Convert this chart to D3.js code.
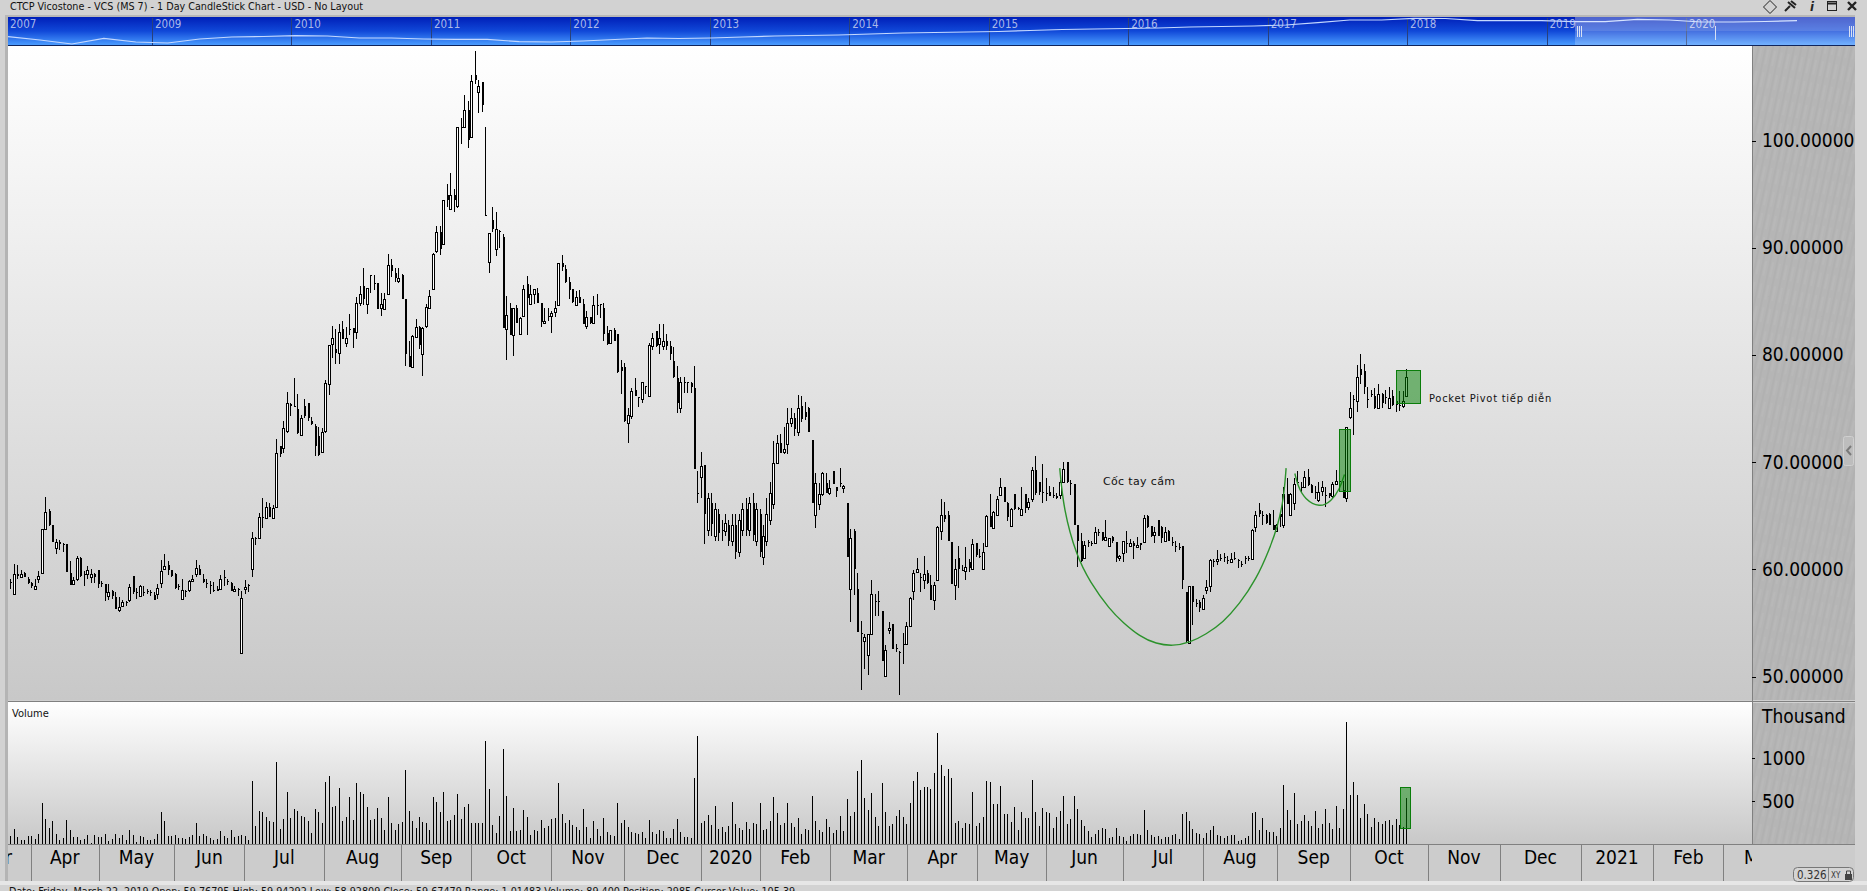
<!DOCTYPE html>
<html>
<head>
<meta charset="utf-8" />
<script src="https://cdn.jsdelivr.net/npm/d3@7"></script>
<style>
  html, body { margin: 0; padding: 0; background: #d2d2d2; overflow: hidden; }
  svg { display: block; }
  text { font-family: "DejaVu Sans Condensed", "DejaVu Sans", sans-serif; }
</style>
</head>
<body>
<script>
// values, one entry per trading day
const opens = [
  58.7,57.5,59.4,59.1,59.5,59.0,58.6,58.0,58.9,59.5,
  63.6,65.3,64.0,61.8,62.4,62.2,62.2,59.5,58.5,58.9,
  60.9,59.4,59.4,59.1,59.4,59.8,58.6,58.5,57.3,57.8,
  57.3,56.0,56.4,56.8,57.0,59.2,57.7,57.4,57.7,57.8,
  57.7,57.5,57.5,58.6,59.9,60.3,59.8,59.4,58.3,57.1,
  57.8,58.0,58.8,59.4,59.9,59.0,58.6,58.4,57.9,58.0,
  58.1,59.1,58.8,58.6,57.8,58.0,52.1,58.0,58.4,59.9,
  62.8,62.7,64.7,64.7,65.7,64.7,65.7,71.4,71.1,72.8,
  75.3,75.1,74.8,72.4,75.1,75.4,73.7,73.2,72.3,70.8,
  72.7,77.2,80.8,80.4,80.0,82.3,80.9,82.3,82.4,82.0,
  84.7,86.3,84.6,87.3,86.6,86.6,84.2,84.2,85.5,88.2,
  87.5,86.7,87.3,85.1,79.8,78.7,81.6,82.5,80.0,82.5,
  84.3,86.0,89.5,91.3,90.2,94.8,93.5,94.8,93.7,101.1,
  101.1,102.7,100.2,106.0,104.3,105.3,92.9,88.5,92.4,89.7,
  91.4,90.9,82.3,84.2,81.7,84.2,81.8,83.5,86.5,84.6,
  85.5,85.6,84.7,82.8,83.5,83.5,83.8,84.5,88.4,87.9,
  86.7,86.0,84.6,85.3,84.6,82.6,83.4,82.8,84.5,84.6,
  84.2,81.9,81.0,82.2,81.8,78.7,78.7,73.6,74.2,76.6,
  75.9,75.7,77.0,76.0,80.7,82.1,80.8,80.7,81.2,80.7,
  79.3,77.7,74.9,77.3,77.3,77.2,76.8,67,68.5,69.6,
  63.5,66,63,65,63.5,63.5,64,62.5,64,61.5,63.5,
  65.5,63.5,66,62.5,65,61,62.5,64.5,66,69.7,
  71.6,70.8,71.5,73.5,74.0,72.7,75.1,74.5,74.9,71.9,
  64.9,66.0,66.8,67.9,66.9,69.0,67.5,67.9,67.4,66.0,
  58.0,63.4,58.0,53.9,53.1,51.8,53.9,56.9,56.9,56.0,
  49.9,54.2,54.8,52.5,52.1,52.9,52.9,54.6,57.8,59.6,
  59.1,58.8,59.5,58.4,57.0,58.9,63.4,64.9,64.9,62.4,
  58.4,60.9,59.8,59.7,60.5,59.9,62.3,61.1,59.9,62.0,
  64.8,63.7,64.9,66.8,67.5,66.0,63.9,66.9,65.6,64.9,
  66.9,65.6,66.4,69.1,68.0,67.1,67.0,67.1,66.8,66.7,
  66.8,68.0,69.9,67.9,67.8,64.0,62.5,60.9,62.4,62.3,
  62.3,63.3,63.3,62.6,62.1,62.9,62.4,60.9,61.4,62.3,
  62.0,62.3,61.9,62.3,62.4,64.8,63.9,63.0,64.5,63.8,
  62.5,63.4,62.4,62.0,61.9,62.0,57.7,53.0,58.3,56.7,
  56.8,56.2,57.9,58.3,60.6,60.6,60.9,61.0,60.7,60.5,
  60.9,60.7,60.4,60.9,60.9,60.8,63.8,65.4,64.9,64.9,
  65.0,64.0,63.4,65.0,64.0,66.9,64.9,66.0,68.0,67.5,
  67.6,68.5,67.7,67.1,66.4,67.1,66.8,67.0,66.7,67.8,
  68.1,67.3,66.5,74.1,75.7,75.6,78.5,78.4,75.7,76.2,
  76.0,74.9,76.2,75.9,74.9,76.0,75.6,75.2,75.1,76.0,
];
const highs = [
  59.0,60.4,60.3,59.8,59.6,59.1,58.7,59.0,59.7,63.6,
  66.6,65.5,64.0,62.7,62.6,62.3,62.2,60.6,59.1,61.1,
  61.0,59.7,60.2,59.9,59.5,59.8,58.8,58.5,58.5,57.9,
  57.7,57.3,57.0,56.9,58.5,59.2,58.1,58.4,58.3,58.0,
  57.9,57.7,58.5,60.7,61.3,60.6,59.8,59.5,58.5,59.0,
  57.9,58.9,59.3,60.7,60.3,59.4,59.0,58.8,58.7,58.3,
  59.3,59.8,59.0,58.7,58.3,58.1,57.8,58.9,58.5,63.3,
  62.9,65.1,66.5,66.1,66.0,65.9,72.0,71.4,73.7,76.4,
  75.4,77.7,76.2,74.3,75.7,75.4,74.1,73.4,73.1,73.0,
  77.5,80.8,82.6,82.3,82.7,83.0,82.5,83.7,82.4,85.3,
  86.3,88.0,86.1,87.3,87.3,86.6,85.6,85.6,89.3,88.8,
  88.0,88.0,87.4,85.1,81.2,81.7,83.2,82.6,82.5,84.6,
  85.9,89.4,91.9,91.9,94.3,95.8,96.8,95.3,101.1,102.0,
  104.1,103.5,106.0,108.2,105.5,105.3,101.1,91.2,93.7,93.2,
  91.5,91.1,85.4,84.7,84.2,84.5,83.4,86.4,87.2,86.4,
  86.0,86.1,84.7,84.2,84.2,84.0,84.9,88.4,89.2,88.2,
  87.1,86.0,85.8,85.9,85.1,84.0,83.4,85.4,85.5,84.6,
  84.7,82.6,82.2,82.4,81.8,79.4,79.1,74.9,76.8,77.7,
  75.9,77.3,77.0,81.0,81.9,82.1,82.7,82.7,81.8,81.2,
  80.6,78.8,77.8,77.8,77.3,77.3,78.8,69.0,70.8,69.6,
  67,67,66,65.5,64.5,65,64.5,65,65,65,66,
  66.5,66.6,67,66,65.5,64,66.5,68,71.8,72.4,
  72.5,73.1,74.9,74.9,74.4,76.1,76.0,75.5,75.0,71.9,
  68.8,67.9,68.9,68.8,68.2,69.0,67.5,69.3,67.7,66.0,
  63.6,63.6,59.5,55.0,53.8,53.8,58.9,57.6,57.8,56.0,
  52.8,54.9,54.8,52.9,52.2,53.9,54.9,57.3,59.8,60.9,
  59.5,61.1,59.8,59.3,58.7,63.9,66.4,66.1,65.3,62.4,
  60.8,62.0,60.3,61.9,60.8,62.7,62.3,61.8,62.3,64.9,
  66.9,65.3,66.7,68.4,67.5,66.1,65.6,66.9,65.7,67.5,
  66.9,66.5,69.4,70.4,68.0,69.7,68.4,67.6,67.5,67.0,
  68.2,69.9,69.9,68.2,67.8,64.0,63.2,62.5,62.6,62.5,
  63.8,63.6,63.3,64.5,62.8,63.0,62.4,61.2,62.5,63.4,
  62.7,62.5,62.9,62.3,64.9,64.9,63.9,63.8,64.5,63.9,
  63.8,63.5,62.9,62.5,62.3,62.0,57.7,58.3,58.3,57.1,
  57.0,57.5,58.9,60.8,60.8,61.7,61.3,61.4,61.1,61.4,
  61.5,60.8,60.6,61.1,61.1,63.6,65.3,66.0,65.3,65.0,
  65.1,65.4,64.1,65.0,67.5,68.4,67.0,68.4,69.0,68.0,
  69.0,69.2,67.8,67.6,68.0,68.1,67.5,67.0,68.0,69.1,
  68.2,68.1,73.1,76.4,76.1,78.9,79.9,79.0,76.9,76.6,
  76.8,77.1,76.3,76.6,76.9,76.6,75.7,76.5,76.5,78.5,
];
const lows = [
  58.0,57.5,59.0,59.1,59.1,58.5,58.1,58.0,58.6,59.5,
  63.6,63.9,62.4,61.3,61.7,61.5,59.6,58.4,58.4,58.8,
  59.1,58.3,59.0,58.6,58.6,58.1,58.2,56.9,57.0,57.1,
  56.2,55.9,56.3,56.4,56.8,57.6,57.1,57.3,57.4,57.6,
  57.4,57.0,57.1,58.1,59.8,59.3,59.1,58.0,57.9,57.0,
  57.3,57.7,58.7,59.1,59.3,58.6,58.1,57.6,57.7,57.8,
  58.0,58.3,58.4,57.9,57.8,57.4,52.0,57.6,57.7,59.1,
  62.1,62.7,63.7,64.6,64.7,64.6,65.7,70.3,70.7,72.6,
  74.2,75.0,72.5,72.4,74.0,73.7,73.3,70.4,70.4,70.8,
  72.6,76.1,79.6,79.0,79.0,81.4,80.6,81.7,80.5,81.3,
  84.4,84.5,83.7,85.6,85.9,84.2,83.5,84.2,85.5,87.1,
  86.7,86.6,85.1,78.8,78.8,78.7,81.6,80.4,77.9,82.4,
  84.3,86.0,89.4,89.2,90.2,93.7,93.4,93.2,93.6,99.5,
  101.1,99.2,100.2,105.1,102.4,102.5,92.8,87.5,91.3,89.1,
  89.8,82.4,79.4,81.7,79.8,82.8,81.7,83.4,81.7,84.6,
  84.6,84.7,82.5,82.8,83.0,81.9,83.4,84.5,87.7,86.6,
  85.1,84.7,84.6,84.7,82.7,82.3,82.7,82.7,83.6,83.3,
  81.2,80.8,80.9,81.2,78.2,76.2,73.6,71.6,73.9,76.0,
  75.0,75.4,76.2,76.0,80.3,80.6,79.9,80.3,80.3,79.4,
  77.7,74.4,74.4,76.3,76.3,76.3,69.2,66,66.5,62.2,
  63,63,62.5,62.5,62.5,63,62,62,60.8,61,63,
  63,63,62.5,62,61,60.3,62,64,65.5,69.7,
  70.7,70.6,70.6,73.1,72.3,72.3,73.6,73.8,72.7,66.0,
  63.7,65.4,66.7,67.0,66.8,67.8,66.6,67.5,67.0,61.0,
  54.9,57.5,54.0,48.6,50.6,50.0,53.9,55.5,55.5,51.3,
  49.9,53.8,52.5,52.1,48.1,51.0,52.8,54.6,57.0,59.5,
  57.7,58.0,58.5,57.0,56.1,58.8,62.6,64.3,62.5,58.5,
  57.0,58.1,59.7,58.9,59.6,59.8,61.0,60.9,59.8,61.9,
  63.8,63.6,64.9,66.7,66.1,64.4,63.8,65.4,65.4,64.9,
  65.1,65.4,66.1,66.8,66.8,66.0,66.2,66.7,66.5,66.4,
  66.4,67.9,67.9,66.8,64.0,60.1,60.5,60.9,61.9,62.0,
  62.3,63.0,62.5,62.5,62.1,62.3,60.5,60.6,60.5,61.4,
  62.0,60.8,61.9,61.7,62.3,63.7,62.9,62.3,63.0,62.3,
  62.4,62.5,62.0,61.5,61.7,58.0,53.1,52.9,54.7,56.3,
  55.9,56.1,57.6,57.7,60.1,60.3,60.6,60.5,60.4,60.5,
  60.7,60.0,60.1,60.4,60.6,60.8,63.3,64.7,64.0,64.1,
  64.0,63.5,63.4,63.8,63.7,66.0,64.9,65.4,68.0,67.0,
  67.5,67.6,67.0,66.4,66.1,66.7,65.7,66.5,66.5,67.7,
  67.1,66.5,66.1,73.9,72.4,74.5,77.1,76.2,74.9,75.9,
  74.8,74.8,74.9,75.3,74.8,75.1,74.5,74.6,74.9,75.9,
];
const closes = [
  58.6,59.4,59.2,59.4,59.1,58.6,58.3,58.3,59.2,63.6,
  65.2,64.0,62.4,62.4,62.2,62.2,59.6,58.4,58.9,60.9,
  59.2,59.3,59.8,59.4,59.1,58.5,58.6,57.7,57.7,57.3,
  56.2,56.3,56.8,56.7,58.2,57.7,57.6,58.3,57.6,57.8,
  57.6,57.0,58.1,59.7,60.2,59.8,59.2,58.1,58.3,57.9,
  57.8,58.8,59.0,60.0,59.3,58.7,58.6,58.4,57.9,57.8,
  59.0,59.0,58.7,57.9,58.0,58.0,57.2,58.2,58.4,62.8,
  62.8,64.7,64.6,65.7,64.8,65.6,70.7,70.7,73.0,75.4,
  75.1,75.0,72.6,74.0,74.2,74.0,73.4,71.3,70.5,72.7,
  77.2,80.8,81.4,80.0,82.0,81.4,81.4,82.3,81.9,84.7,
  85.5,85.1,86.1,87.3,86.5,84.2,84.6,85.1,88.2,87.6,
  87.0,87.0,85.1,80.0,78.8,81.6,82.5,80.8,82.4,84.3,
  85.4,89.3,91.3,89.7,94.3,94.3,94.8,94.3,101.1,101.1,
  102.7,99.9,105.4,105.5,104.9,103.2,92.8,91.2,91.6,91.6,
  91.4,82.4,83.6,81.7,84.2,82.8,83.3,86.0,85.2,85.5,
  86.0,84.7,82.9,83.0,83.4,83.8,84.2,88.4,88.0,86.7,
  86.0,84.8,85.3,84.7,82.7,83.4,82.8,84.5,84.5,84.6,
  81.8,80.9,82.2,81.2,78.3,78.3,73.7,74.3,76.5,76.0,
  75.8,77.3,76.9,80.8,81.4,80.7,81.4,81.2,80.7,80.0,
  77.8,75.4,77.3,77.3,77.3,76.8,69.2,67,69.5,65,
  66.5,64,65.5,63.2,63.5,64.2,62.5,64,61.5,64.5,65.5,
  63.5,66,63,65.5,61.5,63,65,67,69.8,71.6,
  70.7,71.1,73.5,74.0,73.0,74.9,73.9,74.0,72.7,66.0,
  67.9,66.9,68.8,67.0,67.4,67.8,67.1,67.9,67.6,61.0,
  62.8,59.9,54.0,53.9,53.5,53.8,57.6,56.9,56.9,51.3,
  52.3,54.4,52.5,52.5,52.1,52.9,54.6,57.2,59.5,59.9,
  59.1,59.4,58.6,57.0,58.4,63.8,64.9,64.5,62.5,58.5,
  59.9,59.9,59.8,60.1,59.9,62.2,61.2,61.0,61.5,64.8,
  63.8,65.2,66.4,67.5,66.1,64.7,65.5,65.5,65.5,65.5,
  65.6,66.1,69.1,67.0,67.1,67.1,67.0,66.7,66.8,66.5,
  68.0,69.2,68.0,67.9,64.0,62.5,60.6,62.1,62.4,62.3,
  63.3,63.3,62.6,62.9,62.8,62.5,60.9,61.1,62.5,62.3,
  62.3,62.0,62.1,62.1,64.6,63.8,63.0,63.3,63.0,62.8,
  63.3,62.5,62.4,62.0,61.9,58.8,53.1,58.3,56.8,56.7,
  56.2,57.2,58.2,60.7,60.6,60.8,60.9,61.0,60.7,60.8,
  60.8,60.7,60.4,60.9,60.9,63.5,64.9,65.0,64.9,64.2,
  64.0,63.5,64.0,64.7,66.9,66.0,66.9,67.8,68.0,67.5,
  68.5,67.8,67.0,67.1,67.1,67.5,66.8,66.7,67.8,68.1,
  68.0,66.6,73.1,74.9,75.7,77.8,77.9,76.9,75.7,76.2,
  74.9,76.2,75.4,75.9,75.8,75.2,75.2,75.2,75.6,77.8,
];
// thousand shares
const volumes = [
  93,171,81,47,47,93,93,58,116,477,291,186,268,116,47,70,279,163,81,81,
  47,58,105,12,105,81,81,116,35,58,116,70,105,47,163,105,23,93,81,47,
  47,58,116,372,268,93,93,105,66,66,58,81,105,244,93,116,93,70,47,58,
  151,93,70,163,81,93,105,93,47,733,210,384,372,314,268,256,954,175,291,605,
  303,407,384,326,314,268,128,407,372,244,722,792,431,442,652,268,314,547,279,710,
  605,582,431,279,291,419,303,163,547,244,163,233,256,861,384,268,186,314,256,244,
  163,547,489,372,605,268,279,338,582,291,431,466,244,244,244,244,1199,640,221,128,
  326,1106,559,151,419,151,163,396,314,105,163,151,279,186,210,291,303,710,349,244,
  279,221,198,163,407,198,70,268,175,93,303,140,105,93,477,
  244,279,198,140,128,116,140,70,279,140,116,163,151,70,70,175,291,140,81,81,
  70,768,1257,244,268,338,221,442,175,198,140,210,489,233,186,163,256,175,244,233,
  477,163,175,268,547,361,221,244,477,244,198,303,116,175,163,559,268,163,140,291,
  198,128,163,326,151,524,326,372,850,978,535,396,594,314,210,710,372,210,233,326,
  396,314,233,477,733,838,629,663,663,640,826,1292,920,792,873,768,244,268,186,244,
  233,605,210,244,314,733,722,466,466,
  675,349,349,256,431,163,372,303,303,745,372,210,419,372,361,186,314,384,559,233,
  291,559,407,279,210,151,81,116,163,186,175,70,81,186,93,81,35,93,116,116,
  105,396,163,105,81,93,58,81,81,105,116,58,349,372,268,175,128,116,70,128,
  163,210,105,93,70,93,105,105,35,47,70,93,361,372,163,303,163,140,140,93,
  186,687,396,279,594,233,268,338,268,210,384,186,233,407,244,175,442,186,407,1420,
  570,722,570,303,466,349,198,303,256,233,268,279,221,291,221,198,535,
];
const priceTicks = [50, 60, 70, 80, 90, 100];
const volumeTicks = [500, 1000];
const monthLabels = ["Mar","Apr","May","Jun","Jul","Aug","Sep","Oct","Nov","Dec","2020","Feb","Mar","Apr","May","Jun","Jul","Aug","Sep","Oct","Nov","Dec","2021","Feb","Mar"];
// first bar of each month on the date axis, the last entry closes the final month
const monthStarts = [-14.1,5.9,25.2,46.9,66.9,89.8,111.9,132,155,176,198.1,215.2,235.3,257.3,277.4,297.1,319.1,342,363.2,384.2,406,426.6,449.3,469.9,489.7,510.5];
const overviewYears = ["2007","2009","2010","2011","2012","2013","2014","2015","2016","2017","2018","2019","2020"];
const overviewLine = [8.3,5,1,6.7,3,2,6,8,8.5,9.3,9,7,7,6,5.7,5.7,3.3,3,4,5.5,7,6.5,7,8,9,9.5,10,11,12,12.5,13,13.5,14.5,15.5,16,16.5,17,18,18.5,19,20,22.3,25,25,26.7,26.5,24.3,24.3,24.3,23.3,23.3,25.7,25,23,23,23.5,24.3];
// [bar, price] points of the hand drawn cup and handle
const cupPoints = [[301,69.3],[302.1,65.4],[305.8,61.1],[309.6,58.7],[315.3,56.1],[319.1,54.9],[323.9,53.6],[328.6,52.9],[333.4,52.7],[338.1,53],[342.9,53.8],[347.7,54.9],[352.4,56.6],[357.2,58.9],[361,61.7],[363.4,63.9],[365.1,66.4],[365.8,69.3]];
const handlePoints = [[368.3,68.8],[369.2,67.6],[371.1,66.4],[375.4,65.6],[378.7,66.2],[381.1,67.3],[382.5,68.7]];
// [bar start, bar end, price top, price bottom]
const priceBoxes = [[381,384.3,72.87,67.15],[397.2,404.1,78.4,75.3]];
const volumeBox = [398.3,401.2,659,183];

const W = 1867;
const H = 891;
const plotLeft = 8;
const plotRight = 1752;
const panelRight = 1855;

// bar spacing drifts a little along the axis, so the scale is pinned at a few read bars
const x = d3
  .scaleLinear()
  .domain([0, 76, 196, 219, 383, 400])
  .range([10.3, 276.3, 694, 773.3, 1346.2, 1406.3]);
const y = d3.scaleLinear().domain([50, 100]).range([675, 139]);
const yVol = d3.scaleLinear().domain([0, 1000]).range([844, 758]);
const px = (i) => Math.round(x(i));

const svg = d3
  .select("body")
  .append("svg")
  .attr("width", W)
  .attr("height", H)
  .attr("viewBox", `0 0 ${W} ${H}`);

const defs = svg.append("defs");

const vGrad = (id, stops) => {
  const g = defs
    .append("linearGradient")
    .attr("id", id)
    .attr("x1", 0)
    .attr("y1", 0)
    .attr("x2", 0)
    .attr("y2", 1);
  stops.forEach(([o, c]) =>
    g.append("stop").attr("offset", o).attr("stop-color", c)
  );
};
vGrad("plotBg", [[0, "#ffffff"], [1, "#c8c8c8"]]);
vGrad("bandBg", [[0, "#001fb8"], [0.5, "#1048d8"], [1, "#4a9cff"]]);

const metal = defs
  .append("pattern")
  .attr("id", "metal")
  .attr("width", 7)
  .attr("height", 23)
  .attr("patternUnits", "userSpaceOnUse")
  .attr("patternTransform", "rotate(12)");
metal.append("rect").attr("width", 7).attr("height", 23).attr("fill", "#b5b5b5");
metal.append("path").attr("d", "M1 0 V23").attr("stroke", "#aeaeae").attr("stroke-width", 1);
metal.append("path").attr("d", "M4 3 V18").attr("stroke", "#bcbcbc").attr("stroke-width", 1);

defs.append("clipPath").attr("id", "axisClip").append("rect")
  .attr("x", plotLeft).attr("y", 844).attr("width", plotRight - plotLeft).attr("height", 40);

// window frame
svg.append("rect").attr("width", W).attr("height", H).attr("fill", "#d2d2d2");
svg.append("rect").attr("x", 5).attr("y", 15).attr("width", 3).attr("height", 866).attr("fill", "#b4b4b4");
svg.append("rect").attr("x", 5).attr("y", 15).attr("width", panelRight - 5).attr("height", 2).attr("fill", "#b8b8b8");
svg.append("rect").attr("x", 0).attr("y", 881).attr("width", W).attr("height", 4).attr("fill", "#e6e6e6");

svg.append("text")
  .attr("x", 10)
  .attr("y", 10)
  .attr("font-size", 10.7)
  .attr("fill", "#111")
  .text("CTCP Vicostone - VCS (MS 7) - 1 Day CandleStick Chart - USD - No Layout");

// window buttons
const icons = svg.append("g").attr("fill", "none").attr("stroke", "#222");
icons.append("path").attr("d", "M1770 0.5 L1776.5 7 L1770 13.5 L1763.5 7 Z").attr("stroke-width", 1);
icons.append("path").attr("d", "M1785 11 L1790 6 M1788 2 L1795 8 M1791 1 L1796 5").attr("stroke-width", 2);
svg.append("text").attr("x", 1812).attr("y", 11).attr("font-size", 13).attr("font-style", "italic").attr("font-weight", "bold").attr("text-anchor", "middle").attr("fill", "#222").text("i");
icons.append("rect").attr("x", 1827.5).attr("y", 1.5).attr("width", 9).attr("height", 9).attr("stroke-width", 1);
icons.append("path").attr("d", "M1828 3.5 H1837").attr("stroke-width", 2);
icons.append("path").attr("d", "M1848 2 L1856 10 M1856 2 L1848 10").attr("stroke-width", 2.4);

// overview band
const band = svg.append("g");
band.append("rect").attr("x", plotLeft).attr("y", 17).attr("width", panelRight - plotLeft).attr("height", 28).attr("fill", "url(#bandBg)");
const xYear = d3.scaleLinear().domain([1, 12]).range([152, 1686]);
const xOverview = d3.scaleLinear().domain([0, overviewLine.length - 1]).range([8, 1797]);
const yOverview = d3.scaleLinear().domain([0, 30]).range([45, 15]);
band.append("g")
  .selectAll("line")
  .data(overviewYears.slice(1))
  .join("line")
  .attr("x1", (d, i) => Math.round(xYear(i + 1)) + 0.5)
  .attr("x2", (d, i) => Math.round(xYear(i + 1)) + 0.5)
  .attr("y1", 18)
  .attr("y2", 45)
  .attr("stroke", "#28407a");
band.append("g")
  .selectAll("text")
  .data(overviewYears)
  .join("text")
  .attr("x", (d, i) => (i === 0 ? 10 : xYear(i) + 3))
  .attr("y", 28)
  .attr("font-size", 11.5)
  .attr("fill", "#aab8e8")
  .text((d) => d);
band.append("path")
  .datum(overviewLine)
  .attr("d", d3.line().x((d, i) => xOverview(i)).y((d) => yOverview(d)))
  .attr("fill", "none")
  .attr("stroke", "#c4d8ff")
  .attr("stroke-width", 1.2);
band.append("rect").attr("x", 1575).attr("y", 17).attr("width", panelRight - 1575).attr("height", 28).attr("fill", "#ffffff").attr("opacity", 0.22);
band.append("rect").attr("x", 1575).attr("y", 17).attr("width", panelRight - 1575).attr("height", 14).attr("fill", "#ffffff").attr("opacity", 0.12);
band.append("path")
  .attr("d", "M1577.5 26 V37 M1579.5 26 V37 M1581.5 26 V37 M1849.5 26 V37 M1851.5 26 V37 M1853.5 26 V37 M1715.5 26 V40")
  .attr("stroke", "#d8e0f4")
  .attr("stroke-width", 1);
svg.append("rect").attr("x", plotLeft).attr("y", 45).attr("width", panelRight - plotLeft).attr("height", 1).attr("fill", "#10245c");

// panels
svg.append("rect").attr("x", plotLeft).attr("y", 46).attr("width", plotRight - plotLeft).attr("height", 654).attr("fill", "url(#plotBg)");
svg.append("rect").attr("x", plotLeft).attr("y", 702).attr("width", plotRight - plotLeft).attr("height", 142).attr("fill", "url(#plotBg)");
svg.append("rect").attr("x", plotRight).attr("y", 46).attr("width", panelRight - plotRight).attr("height", 654).attr("fill", "url(#metal)");
svg.append("rect").attr("x", plotRight).attr("y", 703).attr("width", panelRight - plotRight).attr("height", 141).attr("fill", "url(#metal)");
svg.append("rect").attr("x", plotLeft).attr("y", 700).attr("width", panelRight - plotLeft).attr("height", 1).attr("fill", "#cfcfcf");
svg.append("rect").attr("x", plotLeft).attr("y", 701).attr("width", panelRight - plotLeft).attr("height", 1).attr("fill", "#808080");
svg.append("rect").attr("x", plotRight).attr("y", 46).attr("width", 1).attr("height", 798).attr("fill", "#808080");

svg.append("text").attr("x", 12).attr("y", 717).attr("font-size", 11).attr("fill", "#111").text("Volume");

// candles
const bars = d3.range(opens.length);
const candles = svg.append("g").attr("shape-rendering", "crispEdges");
candles
  .selectAll("line")
  .data(bars)
  .join("line")
  .attr("x1", (i) => px(i) + 0.5)
  .attr("x2", (i) => px(i) + 0.5)
  .attr("y1", (i) => y(highs[i]))
  .attr("y2", (i) => y(lows[i]))
  .attr("stroke", "#000");
candles
  .selectAll("rect")
  .data(bars)
  .join("rect")
  .attr("x", (i) => (closes[i] > opens[i] ? px(i) - 0.5 : px(i)))
  .attr("y", (i) => Math.round(y(Math.max(opens[i], closes[i]))) + (closes[i] > opens[i] ? 0.5 : 0))
  .attr("width", 2)
  .attr("height", (i) => Math.max(1, Math.abs(y(opens[i]) - y(closes[i]))))
  .attr("fill", (i) => (closes[i] > opens[i] ? "#fff" : "#000"))
  .attr("stroke", (i) => (closes[i] > opens[i] ? "#000" : "none"));

// cup and handle
const cupLine = d3
  .line()
  .x((d) => x(d[0]))
  .y((d) => y(d[1]))
  .curve(d3.curveBasis);
[cupPoints, handlePoints].forEach((pts) => {
  svg.append("path")
    .attr("d", cupLine(pts))
    .attr("fill", "none")
    .attr("stroke", "#2b922b")
    .attr("stroke-width", 1.4);
});

// highlight boxes
const boxes = svg.append("g").attr("shape-rendering", "crispEdges");
priceBoxes.forEach(([a, b, top, bottom]) => {
  boxes.append("rect")
    .attr("x", x(a))
    .attr("width", x(b) - x(a))
    .attr("y", y(top))
    .attr("height", y(bottom) - y(top))
    .attr("fill", "#008000")
    .attr("fill-opacity", 0.5)
    .attr("stroke", "#0a7d0a");
});

svg.append("text").attr("x", 1103).attr("y", 485).attr("font-size", 11).attr("letter-spacing", 0.35).attr("fill", "#111").style("font-family", "'DejaVu Sans'").text("Cốc tay cầm");
svg.append("text").attr("x", 1429).attr("y", 402).attr("font-size", 11).attr("letter-spacing", 0.75).attr("fill", "#111").text("Pocket Pivot tiếp diễn");

// volume bars
svg.append("g")
  .attr("shape-rendering", "crispEdges")
  .selectAll("line")
  .data(volumes)
  .join("line")
  .attr("x1", (d, i) => px(i) + 0.5)
  .attr("x2", (d, i) => px(i) + 0.5)
  .attr("y1", 844)
  .attr("y2", (d) => yVol(d))
  .attr("stroke", "#000");
svg.append("rect")
  .attr("shape-rendering", "crispEdges")
  .attr("x", x(volumeBox[0]))
  .attr("width", x(volumeBox[1]) - x(volumeBox[0]))
  .attr("y", yVol(volumeBox[2]))
  .attr("height", yVol(volumeBox[3]) - yVol(volumeBox[2]))
  .attr("fill", "#008000")
  .attr("fill-opacity", 0.5)
  .attr("stroke", "#0a7d0a");

// right axes
const styleAxis = (g, size) => {
  g.select(".domain").remove();
  g.selectAll("line").attr("stroke", "#000").attr("shape-rendering", "crispEdges");
  g.selectAll("text")
    .attr("font-size", size)
    .attr("fill", "#000")
    .style("font-family", '"DejaVu Sans Condensed", "DejaVu Sans", sans-serif');
};
svg.append("g")
  .attr("transform", `translate(${plotRight},1.5)`)
  .call(d3.axisRight(y).tickValues(priceTicks).tickSize(4).tickPadding(6).tickFormat(d3.format(".5f")))
  .call(styleAxis, 19);
svg.append("g")
  .attr("transform", `translate(${plotRight},0)`)
  .call(d3.axisRight(yVol).tickValues(volumeTicks).tickSize(3).tickPadding(7).tickFormat(d3.format("d")))
  .call(styleAxis, 19);
svg.append("text").attr("x", 1762).attr("y", 723).attr("font-size", 19).attr("fill", "#000").text("Thousand");

// scroll tab on the price panel
svg.append("rect").attr("x", 1843.5).attr("y", 436.5).attr("width", 10).attr("height", 29).attr("rx", 2).attr("fill", "#bdbdbd").attr("stroke", "#cfcfcf");
svg.append("path").attr("d", "M1851 446 L1847 450.5 L1851 455").attr("fill", "none").attr("stroke", "#7a7a7a").attr("stroke-width", 2);

// month axis
svg.append("rect").attr("x", plotLeft).attr("y", 844).attr("width", panelRight - plotLeft).attr("height", 37).attr("fill", "#cccccc");
svg.append("rect").attr("x", plotLeft).attr("y", 844).attr("width", panelRight - plotLeft).attr("height", 1).attr("fill", "#808080");
const monthAxis = svg.append("g").attr("clip-path", "url(#axisClip)");
monthAxis.append("g")
  .attr("transform", "translate(0,844)")
  .call(d3.axisBottom(x).tickValues(monthStarts).tickSize(37).tickFormat(""))
  .call((g) => g.select(".domain").remove())
  .call((g) => g.selectAll("line").attr("stroke", "#808080").attr("shape-rendering", "crispEdges"));
monthAxis.selectAll(".month")
  .data(monthLabels)
  .join("text")
  .attr("class", "month")
  .attr("x", (d, i) => (x(monthStarts[i]) + x(monthStarts[i + 1])) / 2)
  .attr("y", 864)
  .attr("text-anchor", "middle")
  .attr("font-size", 19)
  .attr("fill", "#000")
  .text((d) => d);

// scale box
svg.append("rect").attr("x", 1793.5).attr("y", 867.5).attr("width", 60).attr("height", 14).attr("rx", 4).attr("fill", "#d4d4d4").attr("stroke", "#777");
svg.append("path").attr("d", "M1828.5 868 V881").attr("stroke", "#888");
svg.append("text").attr("x", 1797).attr("y", 878.5).attr("font-size", 11.5).attr("fill", "#333").text("0.326");
svg.append("text").attr("x", 1831).attr("y", 878).attr("font-size", 8).attr("fill", "#333").text("XY");
svg.append("rect").attr("x", 1845).attr("y", 874).attr("width", 7).attr("height", 6).attr("fill", "#444");
svg.append("path").attr("d", "M1846.5 874 V871 H1850.5 V874").attr("fill", "none").attr("stroke", "#444");

// status line, cut off by the window bottom
svg.append("text")
  .attr("x", 9)
  .attr("y", 895)
  .attr("font-size", 10.7)
  .attr("fill", "#111")
  .text("Date: Friday, March 22, 2019 Open: 59.76795 High: 59.94292 Low: 58.92809 Close: 59.67479 Range: 1.01483 Volume: 89,400 Position: 2985 Cursor Value: 105.39");

if (![opens, highs, lows, closes, volumes].every((a) => a.length === 401)) {
  throw new Error([opens, highs, lows, closes, volumes].map((a) => a.length).join(" "));
}
</script>
</body>
</html>
